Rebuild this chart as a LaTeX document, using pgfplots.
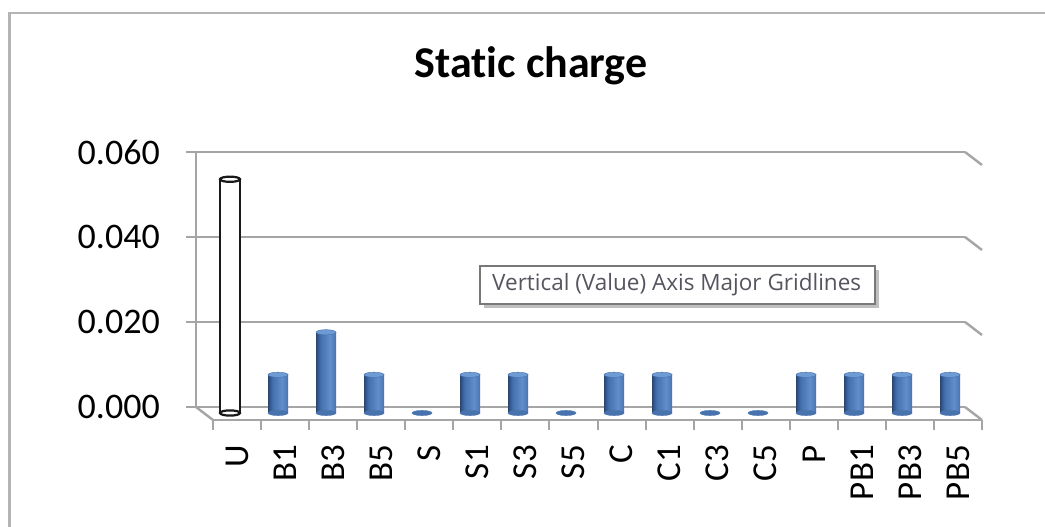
\documentclass[border=0pt]{standalone}
\usepackage{pgfplots}
\pgfplotsset{compat=1.18}
\usepackage{fontspec}
\setmainfont[Ligatures=NoCommon]{Carlito}
\newfontfamily\tipfont{Open Sans}
\definecolor{gridc}{RGB}{165,165,165}
\definecolor{borderc}{RGB}{180,180,180}
\definecolor{cA}{RGB}{42,70,115}
\definecolor{cB}{RGB}{68,112,172}
\definecolor{cC}{RGB}{98,143,204}
\definecolor{cD}{RGB}{72,117,178}
\definecolor{ctop}{RGB}{110,155,212}
\definecolor{cbot}{RGB}{72,115,172}
\definecolor{tipc}{RGB}{85,85,95}
\definecolor{tipborder}{RGB}{120,120,120}
\pgfdeclarehorizontalshading{cyl}{100bp}{color(0bp)=(cA); color(25bp)=(cA); color(36bp)=(cB); color(60bp)=(cC); color(75bp)=(cD); color(100bp)=(cD)}
\pgfdeclareplotmark{ell}{\pgfpathellipse{\pgfpointorigin}{\pgfqpoint{10bp}{0pt}}{\pgfqpoint{0pt}{2.6bp}}\pgfusepathqfillstroke}
\newcommand\cyl[2]{\addplot[ybar, bar width=20bp, draw=none, shade, shading=cyl] coordinates {(#1,#2)};}
\begin{document}
\begin{tikzpicture}
\path[use as bounding box] (0,0) rectangle (1045bp,527bp);
\fill[white] (0,0) rectangle (1045bp,527bp);
\draw[color=borderc, line width=2.5bp] (9.5bp,0) -- (9.5bp,514bp) -- (1045bp,514bp);
\node[font=\bfseries\fontsize{44bp}{48bp}\selectfont, anchor=base, inner sep=0pt] at (531bp,449bp) {Static charge};

% back wall with value axis
\begin{axis}[at={(196bp,120bp)}, anchor=south west, scale only axis,
  width=769bp, height=255bp, xmin=0, xmax=1, ymin=0, ymax=0.06,
  hide x axis, axis y line*=left,
  y axis line style={gridc, line width=2bp, -},
  ytick={0,0.02,0.04,0.06}, yticklabels={0.000,0.020,0.040,0.060},
  scaled y ticks=false,
  ymajorgrids, major grid style={gridc, line width=2.4bp},
  tick align=outside, major tick length=10bp,
  tick style={gridc, line width=2bp},
  yticklabel style={font=\fontsize{36bp}{40bp}\selectfont, inner sep=0pt},
  yticklabel shift=26bp,
  clip=false]
\draw[gridc, line width=2.4bp] (axis cs:1,0) -- ++(17bp,-13bp);
\draw[gridc, line width=2.4bp] (axis cs:1,0.02) -- ++(17bp,-13bp);
\draw[gridc, line width=2.4bp] (axis cs:1,0.04) -- ++(17bp,-13bp);
\draw[gridc, line width=2.4bp] (axis cs:1,0.06) -- ++(17bp,-13bp);
\draw[gridc, line width=2.4bp] (axis cs:0,0) -- ++(17bp,-13bp);
\end{axis}

% front floor edge with categories
\begin{axis}[at={(213bp,107bp)}, anchor=south west, scale only axis,
  width=769bp, height=10bp, xmin=-0.5, xmax=15.5, ymin=0, ymax=1,
  hide y axis, axis x line*=bottom,
  x axis line style={gridc, line width=2.4bp, -},
  xtick={0,...,15},
  xticklabels={U,B1,B3,B5,S,S1,S3,S5,C,C1,C3,C5,P,PB1,PB3,PB5},
  major tick length=0pt,
  minor xtick={-0.5,0.5,...,15.5}, minor tick length=10bp,
  tick align=outside, tick style={gridc, line width=2bp},
  xticklabel style={rotate=90, anchor=east, inner sep=0pt, font=\fontsize{35bp}{40bp}\selectfont},
  xticklabel shift=25bp,
  clip=false]
\end{axis}

% bars
\begin{axis}[at={(206bp,114bp)}, anchor=south west, scale only axis,
  width=768bp, height=255bp, xmin=-0.5, xmax=15.5, ymin=0, ymax=0.06,
  hide axis, clip=false]
\addplot[only marks, mark=ell, mark options={fill=cbot, draw=cbot, line width=0.4bp}]
  coordinates {(1,0)(2,0)(3,0)(4,0)(5,0)(6,0)(7,0)(8,0)(9,0)(10,0)(11,0)(12,0)(13,0)(14,0)(15,0)};
\cyl{1}{0.009}
\cyl{2}{0.019}
\cyl{3}{0.009}
\cyl{5}{0.009}
\cyl{6}{0.009}
\cyl{8}{0.009}
\cyl{9}{0.009}
\cyl{12}{0.009}
\cyl{13}{0.009}
\cyl{14}{0.009}
\cyl{15}{0.009}
\addplot[only marks, mark=ell, mark options={fill=ctop, draw=cB, line width=0.4bp}]
  coordinates {(1,0.009)(2,0.019)(3,0.009)(5,0.009)(6,0.009)(8,0.009)(9,0.009)(12,0.009)(13,0.009)(14,0.009)(15,0.009)};
\addplot[ybar, bar width=20bp, draw=black!90, fill=white, line width=2.8bp]
  coordinates {(0,0.055)};
\addplot[only marks, mark=ell, mark options={fill=white, draw=black!90, line width=2.2bp}]
  coordinates {(0,0.055)(0,0)};
\end{axis}

% tooltip
\fill[black!25] (484bp,219bp) rectangle (879bp,257bp);
\draw[tipborder, fill=white, line width=1.3bp] (480bp,223bp) rectangle (875bp,261bp);
\node[anchor=west, font=\tipfont\fontsize{22.5bp}{26bp}\selectfont, text=tipc, inner sep=0pt] at (492bp,242bp) {Vertical (Value) Axis Major Gridlines};
\end{tikzpicture}
\end{document}
